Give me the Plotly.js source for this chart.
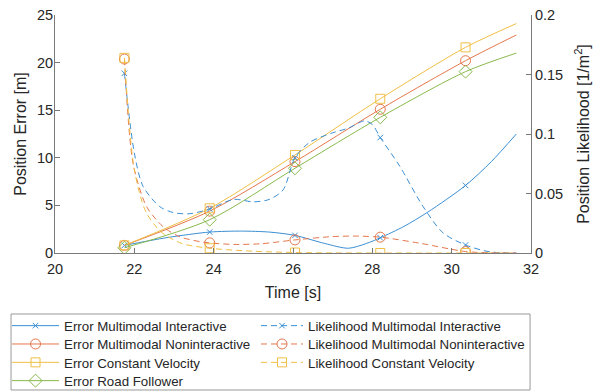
<!DOCTYPE html>
<html>
<head>
<meta charset="utf-8">
<script src="https://cdn.plot.ly/plotly-3.0.1.min.js"></script>
<style>html,body{margin:0;padding:0;background:#fff;}#chart{width:595px;height:392px;}</style>
</head>
<body>
<div id="chart"></div>
<script>
// ---- data ----
const markerTimes = [21.75, 23.9, 26.05, 28.2, 30.35];

const tErrMI = [21.75, 22.8, 23.9, 24.7, 25.4, 26.05, 26.8, 27.4, 27.85, 28.2, 28.8, 29.4, 30.35, 31.0, 31.63];
const errMI  = [0.8, 1.6, 2.2, 2.3, 2.2, 1.85, 1.0, 0.5, 1.0, 1.6, 2.8, 4.3, 7.1, 9.6, 12.5];

const tErr  = [21.75, 23.9, 26.05, 28.2, 30.35, 31.63];
const errMN = [0.8, 4.4, 9.6, 15.1, 20.2, 22.9];
const errCV = [0.8, 4.7, 10.3, 16.2, 21.6, 24.1];
const errRF = [0.55, 3.5, 8.9, 14.25, 19.05, 21.0];

const tLikMI = [21.75, 22.0, 22.22, 22.64, 22.98, 23.4, 23.9, 24.5, 25.0, 25.4, 25.75, 26.05, 26.42, 27.0, 27.4, 27.8, 28.0, 28.2, 28.69, 29.28, 29.78, 30.35, 30.96, 31.63];
const likMI  = [0.151, 0.084, 0.056, 0.039, 0.034, 0.033, 0.037, 0.045, 0.043, 0.045, 0.053, 0.080, 0.093, 0.101, 0.105, 0.111, 0.108, 0.097, 0.073, 0.039, 0.017, 0.0067, 0.001, 0];

const tLikMN = [21.75, 21.97, 22.31, 22.73, 23.15, 23.65, 23.9, 24.5, 25.2, 26.05, 27.0, 27.6, 28.2, 29.2, 30.35, 31.0, 31.63];
const likMN  = [0.163, 0.075, 0.039, 0.022, 0.0136, 0.0096, 0.0085, 0.0072, 0.0078, 0.011, 0.0138, 0.0142, 0.0133, 0.0082, 0.0012, 0.0002, 0];

const tLikCV = [21.75, 22.0, 22.3, 22.7, 23.2, 23.9, 25.0, 26.05, 27.0, 28.2, 30.35, 31.63];
const likCV  = [0.164, 0.07, 0.034, 0.017, 0.008, 0.004, 0.0015, 0.0004, 0.0001, 0, 0, 0];

const seriesNames = [
  'Error Multimodal Interactive', 'Error Multimodal Noninteractive',
  'Error Constant Velocity', 'Error Road Follower',
  'Likelihood Multimodal Interactive', 'Likelihood Multimodal Noninteractive',
  'Likelihood Constant Velocity'
];

// ---- styles ----
const C = {blue:'#3b8fd3', orange:'#e5774d', yellow:'#f0bf45', green:'#89b94c'};
const FONT = 'Liberation Sans, Arial, sans-serif';
const DASH = '6px,4px';

function pickMarkers(t, y) {
  const mx = [], my = [];
  t.forEach((v, i) => { if (markerTimes.some(m => Math.abs(m - v) < 1e-6)) { mx.push(v); my.push(y[i]); } });
  return {mx, my};
}

// legend slot: column, row
const specs = [
  {name: seriesNames[0], t: tErrMI, y: errMI, color: C.blue,   sym: 'x-thin',       size: 5.5, dash: 'solid', axis: 'y',  col: 0, row: 0},
  {name: seriesNames[1], t: tErr,   y: errMN, color: C.orange, sym: 'circle-open',  size: 10,  dash: 'solid', axis: 'y',  col: 0, row: 1},
  {name: seriesNames[2], t: tErr,   y: errCV, color: C.yellow, sym: 'square-open',  size: 9,   dash: 'solid', axis: 'y',  col: 0, row: 2},
  {name: seriesNames[3], t: tErr,   y: errRF, color: C.green,  sym: 'diamond-open', size: 10,  dash: 'solid', axis: 'y',  col: 0, row: 3},
  {name: seriesNames[4], t: tLikMI, y: likMI, color: C.blue,   sym: 'x-thin',       size: 5.5, dash: DASH,    axis: 'y2', col: 1, row: 0},
  {name: seriesNames[5], t: tLikMN, y: likMN, color: C.orange, sym: 'circle-open',  size: 10,  dash: DASH,    axis: 'y2', col: 1, row: 1},
  {name: seriesNames[6], t: tLikCV, y: likCV, color: C.yellow, sym: 'square-open',  size: 9,   dash: DASH,    axis: 'y2', col: 1, row: 2}
];

const colX = [-0.1008, 0.4223];
const colItemWidth = [47, 42];
const rowY = [-0.2416, -0.3186, -0.3958, -0.4727];

const traces = [];
const legendLayouts = {};
specs.forEach((s, k) => {
  const legId = k === 0 ? 'legend' : 'legend' + (k + 1);
  legendLayouts[legId] = {
    x: colX[s.col], y: rowY[s.row], xanchor: 'left', yanchor: 'top', orientation: 'v',
    bgcolor: 'rgba(0,0,0,0)', borderwidth: 0, itemwidth: colItemWidth[s.col],
    font: {family: FONT, size: 13.3, color: '#262626'}
  };
  traces.push({
    x: s.t, y: s.y, yaxis: s.axis, mode: 'lines', showlegend: false, hoverinfo: 'skip',
    line: {color: s.color, width: 1, dash: s.dash, shape: 'spline', smoothing: 0.8}
  });
  const m = pickMarkers(s.t, s.y);
  traces.push({
    x: m.mx, y: m.my, yaxis: s.axis, mode: 'markers', showlegend: false,
    marker: {symbol: s.sym, size: s.size, color: s.color, line: {color: s.color, width: 1}}
  });
  traces.push({
    x: [null], y: [null], yaxis: s.axis, mode: 'lines+markers', name: s.name, legend: legId,
    line: {color: s.color, width: 1, dash: s.dash},
    marker: {symbol: s.sym, size: s.size, color: s.color, line: {color: s.color, width: 1}}
  });
});

const axisCommon = {
  showgrid: false, zeroline: false, showline: true, linecolor: '#7a7a7a', linewidth: 1,
  ticks: 'inside', ticklen: 5, tickcolor: '#7a7a7a', tickwidth: 1,
  tickfont: {family: FONT, size: 14.5, color: '#262626'}
};

const layout = Object.assign({
  width: 595, height: 392,
  margin: {l: 55, r: 64, t: 15, b: 139, autoexpand: false},
  paper_bgcolor: '#fff', plot_bgcolor: '#fff',
  font: {family: FONT, color: '#262626'},
  xaxis: Object.assign({}, axisCommon, {
    range: [20, 32], dtick: 2, tick0: 20, ticklabelstandoff: 3,
    title: {text: 'Time [s]', font: {family: FONT, size: 16, color: '#262626'}, standoff: 10}
  }),
  yaxis: Object.assign({}, axisCommon, {
    range: [0, 25], dtick: 5, tick0: 0, ticklabelstandoff: -2,
    title: {text: 'Position Error [m]', font: {family: FONT, size: 16, color: '#262626'}, standoff: 6}
  }),
  yaxis2: Object.assign({}, axisCommon, {
    overlaying: 'y', side: 'right', range: [0, 0.2], dtick: 0.05, tick0: 0,
    title: {text: 'Position Likelihood [1/m<sup>2</sup>]', font: {family: FONT, size: 16, color: '#262626'}, standoff: 15}
  }),
  shapes: [{
    type: 'rect', xref: 'paper', yref: 'paper',
    x0: -0.0924, x1: 0.998, y0: -0.5756, y1: -0.2563,
    line: {color: '#999999', width: 1}, fillcolor: 'rgba(0,0,0,0)', layer: 'below'
  }]
}, legendLayouts);

Plotly.newPlot('chart', traces, layout, {staticPlot: true, displayModeBar: false});
</script>
</body>
</html>
